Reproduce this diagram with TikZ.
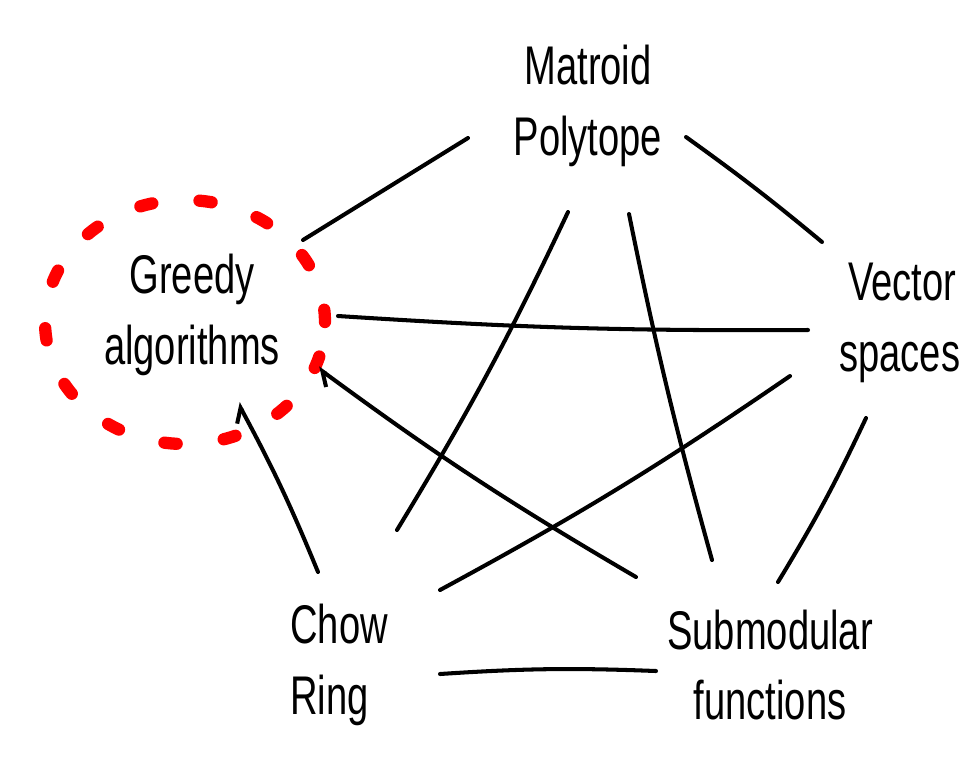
\documentclass[tikz,border=0pt]{standalone}
\usepackage{fontspec}
\usepackage{graphicx}
\setmainfont{Liberation Sans}
\usetikzlibrary{calc,arrows.meta}
\newcommand{\hw}[1]{\scalebox{0.7}[1]{#1}}
\tikzset{
  lbl/.style={inner sep=0pt, font=\fontsize{31pt}{40pt}\selectfont},
  link/.style={line width=2.3pt, line cap=round, line join=round},
  barb/.style={-{Straight Barb[left,length=7pt,width=12pt,line width=2.3pt]}},
  reddash/.style={red, line width=7pt, line cap=round, dash pattern=on 7pt off 27pt}
}
\begin{document}
\begin{tikzpicture}[x=0.02cm,y=-0.02cm]
\clip (0,0) rectangle (969,772);
\fill[white] (0,0) rectangle (969,772);
% nodes
\node[lbl, align=center] (mp) at (588,106) {\hw{Matroid}\\\hw{Polytope}};
\node[lbl, align=center] (gr) at (192,315) {\hw{Greedy}\\\hw{algorithms}};
\node[lbl, align=left, anchor=west] (vs) at (839,323) {\hspace{5pt}\hw{Vector}\\\hw{spaces}};
\node[lbl, align=left, anchor=west] (ch) at (290,665) {\hw{Chow}\\\hw{Ring}};
\node[lbl, align=center] (sm) at (770,665) {\hw{Submodular}\\\hw{functions}};
% red dashed circle
\draw[reddash] ($(gr.center)+(-7,7)$) ellipse [x radius=2.8cm, y radius=2.44cm];
% connectors
\draw[link] ($(mp.center)+(-120,32)$) -- ($(gr.center)+(111,-75)$);
\draw[link] ($(mp.center)+(98,31)$) to[bend left=2] ($(vs.west)+(-17,-81)$);
\draw[link] ($(mp.center)+(-20,106)$) to[bend left=3] ($(ch.west)+(107,-135)$);
\draw[link] ($(mp.center)+(41,108)$) to[bend right=2] ($(sm.center)+(-58,-105)$);
\draw[link] ($(gr.center)+(146,1)$) to[bend right=2] ($(vs.west)+(-31,7)$);
\draw[link, barb] ($(sm.center)+(-134,-88)$) to[bend left=3] ($(gr.center)+(126,53)$);
\draw[link] ($(vs.west)+(-49,53)$) to[bend left=3] ($(ch.west)+(150,-75)$);
\draw[link] ($(vs.west)+(27,95)$) to[bend left=3] ($(sm.center)+(8,-83)$);
\draw[link] ($(ch.west)+(150,9)$) to[bend left=3] ($(sm.center)+(-114,6)$);
\draw[link, barb] ($(ch.west)+(28,-93)$) to[bend right=3] ($(gr.center)+(46,88)$);
\end{tikzpicture}
\end{document}
